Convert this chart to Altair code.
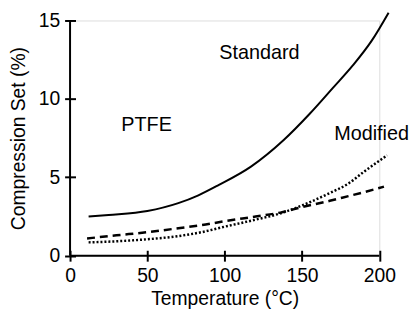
import altair as alt
import pandas as pd

temp_standard = [12, 25, 50, 70, 83, 96, 117, 138, 155, 170, 183, 195, 206]
val_standard = [2.5, 2.6, 2.85, 3.35, 3.85, 4.5, 5.68, 7.36, 9.05, 10.7, 12.15, 13.7, 15.5]
temp_dashed = [11, 30, 50, 70, 85, 100, 120, 136, 150, 168, 180, 190, 203]
val_dashed = [1.1, 1.3, 1.5, 1.75, 1.95, 2.2, 2.5, 2.75, 3.1, 3.5, 3.8, 4.05, 4.4]
temp_dotted = [12, 30, 50, 70, 85, 100, 120, 136, 150, 168, 180, 190, 205]
val_dotted = [0.85, 0.92, 1.05, 1.25, 1.5, 1.85, 2.3, 2.7, 3.2, 4.0, 4.6, 5.35, 6.4]

label_text = ["Standard", "PTFE", "Modified"]
label_x = [122.5, 49.5, 195]
label_y = [12.9, 8.3, 7.75]

x_ticks = [0, 50, 100, 150, 200]
y_ticks = [0, 5, 10, 15]

FONT = "Liberation Sans"
FS = 19.5

xscale = alt.Scale(domain=[0, 200], nice=False)
yscale = alt.Scale(domain=[0, 15], nice=False)

xaxis = alt.Axis(values=x_ticks, offset=-5.5, tickSize=11, tickWidth=2, tickColor="black",
                 domain=False, grid=False, labelPadding=6, titlePadding=4,
                 labelFlush=False, labelOverlap=False, labelBound=False,
                 labelFont=FONT, labelFontSize=FS, labelColor="black",
                 titleFont=FONT, titleFontSize=FS, titleFontWeight="normal", titleColor="black")
yaxis = alt.Axis(values=y_ticks, offset=-5.5, tickSize=11, tickWidth=2, tickColor="black",
                 domain=False, grid=False, labelPadding=5, titlePadding=10,
                 labelFlush=False, labelOverlap=False, labelBound=False,
                 labelFont=FONT, labelFontSize=FS, labelColor="black",
                 titleFont=FONT, titleFontSize=FS, titleFontWeight="normal", titleColor="black")

df_s = pd.DataFrame({"t": temp_standard, "v": val_standard})
df_d = pd.DataFrame({"t": temp_dashed, "v": val_dashed})
df_o = pd.DataFrame({"t": temp_dotted, "v": val_dotted})
df_l = pd.DataFrame({"t": label_x, "v": label_y, "txt": label_text})

base_x = alt.X("t:Q", scale=xscale, axis=xaxis, title="Temperature (°C)")
base_y = alt.Y("v:Q", scale=yscale, axis=yaxis, title="Compression Set (%)")

standard = alt.Chart(df_s).mark_line(color="black", strokeWidth=2, interpolate="monotone").encode(x=base_x, y=base_y)
dashed = alt.Chart(df_d).mark_line(color="black", strokeWidth=2.5, strokeDash=[8, 5], interpolate="monotone").encode(x="t:Q", y="v:Q")
dotted = alt.Chart(df_o).mark_line(color="black", strokeWidth=2.5, strokeDash=[2, 2], interpolate="monotone").encode(x="t:Q", y="v:Q")

labels = alt.Chart(df_l).mark_text(font=FONT, fontSize=20, color="black").encode(x="t:Q", y="v:Q", text="txt:N")

xline = alt.Chart(pd.DataFrame({"a": [0]})).mark_rule(color="black", strokeWidth=2).encode(
    x=alt.datum(0), x2=alt.datum(200), y=alt.datum(0))
yline = alt.Chart(pd.DataFrame({"a": [0]})).mark_rule(color="black", strokeWidth=2).encode(
    x=alt.datum(0), y=alt.datum(0), y2=alt.datum(15))

chart = alt.layer(standard, dashed, dotted, labels, xline, yline).properties(
    width=312.5, height=237.7,
    autosize=alt.AutoSizeParams(type="none"),
    padding={"left": 62.7, "top": 11, "right": 30, "bottom": 60},
).configure_view(stroke=None).configure(background="white")

chart.save("out.html", embed_options={"renderer": "svg", "actions": False})
